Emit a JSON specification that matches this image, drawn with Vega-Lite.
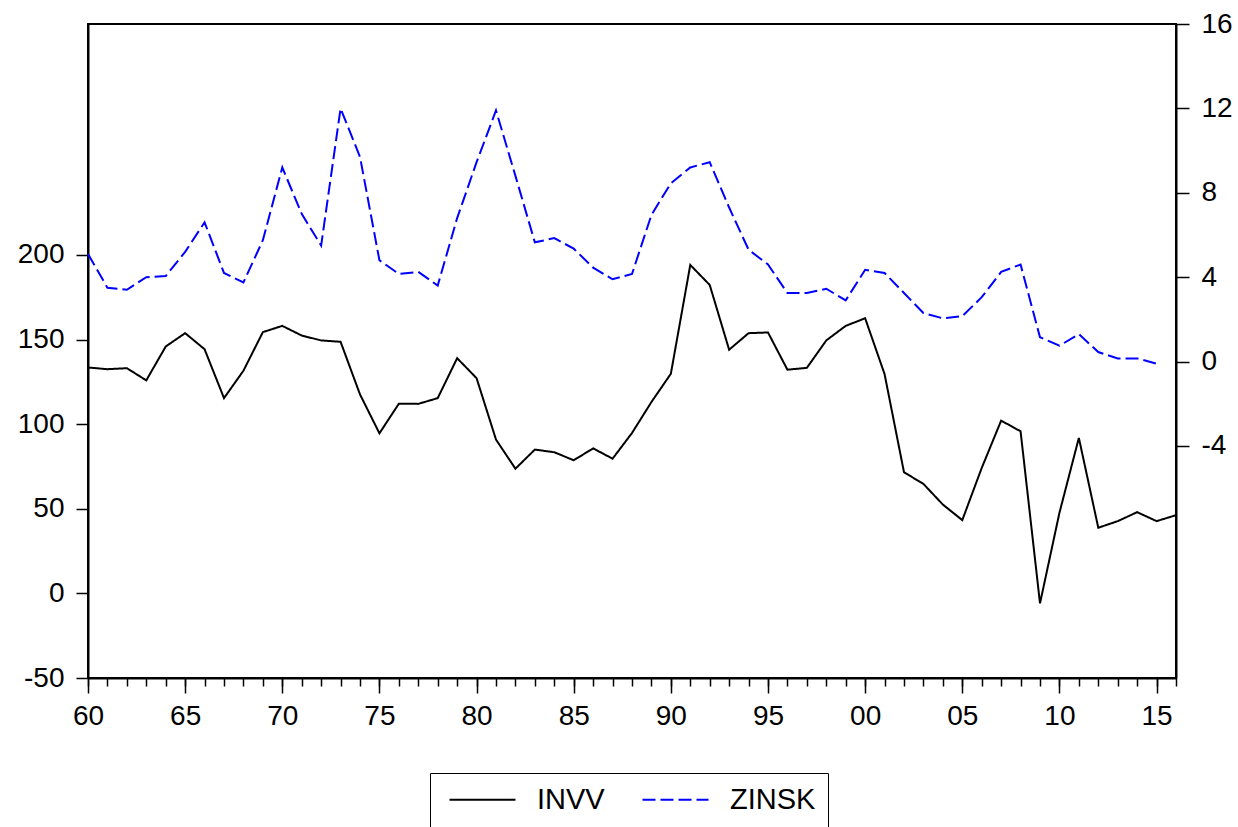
{
  "$schema": "https://vega.github.io/schema/vega-lite/v6.json",
  "width": 1088,
  "height": 654,
  "autosize": "none",
  "padding": {"left": 88, "top": 24, "right": 62, "bottom": 149},
  "background": "white",
  "config": {
    "view": {"stroke": "black", "strokeWidth": 2},
    "axis": {"labelFont": "Liberation Sans", "labelFontSize": 28, "labelColor": "black", "domainColor": "black", "domainWidth": 2, "tickColor": "black", "tickWidth": 1.5, "grid": false, "title": null},
    "legend": {"labelFont": "Liberation Sans", "labelFontSize": 29, "labelColor": "black", "strokeColor": "black", "padding": 12}
  },
  "datasets": {
    "invv": [
      {"year": 1960, "series": "INVV", "value": 133.5}, {"year": 1961, "series": "INVV", "value": 132.5}, {"year": 1962, "series": "INVV", "value": 133.1}, {"year": 1963, "series": "INVV", "value": 125.9}, {"year": 1964, "series": "INVV", "value": 145.9}, {"year": 1965, "series": "INVV", "value": 153.8}, {"year": 1966, "series": "INVV", "value": 144.3}, {"year": 1967, "series": "INVV", "value": 115.4}, {"year": 1968, "series": "INVV", "value": 131.6}, {"year": 1969, "series": "INVV", "value": 154.4},
      {"year": 1970, "series": "INVV", "value": 158.1}, {"year": 1971, "series": "INVV", "value": 152.4}, {"year": 1972, "series": "INVV", "value": 149.5}, {"year": 1973, "series": "INVV", "value": 148.7}, {"year": 1974, "series": "INVV", "value": 117.6}, {"year": 1975, "series": "INVV", "value": 94.6}, {"year": 1976, "series": "INVV", "value": 112.1}, {"year": 1977, "series": "INVV", "value": 112.0}, {"year": 1978, "series": "INVV", "value": 115.4}, {"year": 1979, "series": "INVV", "value": 139.0},
      {"year": 1980, "series": "INVV", "value": 127.2}, {"year": 1981, "series": "INVV", "value": 90.9}, {"year": 1982, "series": "INVV", "value": 73.7}, {"year": 1983, "series": "INVV", "value": 85.0}, {"year": 1984, "series": "INVV", "value": 83.4}, {"year": 1985, "series": "INVV", "value": 78.7}, {"year": 1986, "series": "INVV", "value": 85.7}, {"year": 1987, "series": "INVV", "value": 79.6}, {"year": 1988, "series": "INVV", "value": 94.8}, {"year": 1989, "series": "INVV", "value": 113.1},
      {"year": 1990, "series": "INVV", "value": 129.8}, {"year": 1991, "series": "INVV", "value": 194.1}, {"year": 1992, "series": "INVV", "value": 182.3}, {"year": 1993, "series": "INVV", "value": 144.0}, {"year": 1994, "series": "INVV", "value": 153.8}, {"year": 1995, "series": "INVV", "value": 154.2}, {"year": 1996, "series": "INVV", "value": 132.2}, {"year": 1997, "series": "INVV", "value": 133.3}, {"year": 1998, "series": "INVV", "value": 149.5}, {"year": 1999, "series": "INVV", "value": 158.1},
      {"year": 2000, "series": "INVV", "value": 162.6}, {"year": 2001, "series": "INVV", "value": 129.6}, {"year": 2002, "series": "INVV", "value": 71.6}, {"year": 2003, "series": "INVV", "value": 64.7}, {"year": 2004, "series": "INVV", "value": 52.5}, {"year": 2005, "series": "INVV", "value": 43.3}, {"year": 2006, "series": "INVV", "value": 74.1}, {"year": 2007, "series": "INVV", "value": 102.1}, {"year": 2008, "series": "INVV", "value": 95.8}, {"year": 2009, "series": "INVV", "value": -5.9},
      {"year": 2010, "series": "INVV", "value": 47.6}, {"year": 2011, "series": "INVV", "value": 91.9}, {"year": 2012, "series": "INVV", "value": 38.8}, {"year": 2013, "series": "INVV", "value": 42.7}, {"year": 2014, "series": "INVV", "value": 48.0}, {"year": 2015, "series": "INVV", "value": 42.7}, {"year": 2016, "series": "INVV", "value": 46.2}
    ],
    "zinsk": [
      {"year": 1960, "series": "ZINSK", "value": 5.1}, {"year": 1961, "series": "ZINSK", "value": 3.5}, {"year": 1962, "series": "ZINSK", "value": 3.4}, {"year": 1963, "series": "ZINSK", "value": 4.0}, {"year": 1964, "series": "ZINSK", "value": 4.05}, {"year": 1965, "series": "ZINSK", "value": 5.2}, {"year": 1966, "series": "ZINSK", "value": 6.6}, {"year": 1967, "series": "ZINSK", "value": 4.2}, {"year": 1968, "series": "ZINSK", "value": 3.75}, {"year": 1969, "series": "ZINSK", "value": 5.75},
      {"year": 1970, "series": "ZINSK", "value": 9.2}, {"year": 1971, "series": "ZINSK", "value": 7.0}, {"year": 1972, "series": "ZINSK", "value": 5.5}, {"year": 1973, "series": "ZINSK", "value": 12.0}, {"year": 1974, "series": "ZINSK", "value": 9.7}, {"year": 1975, "series": "ZINSK", "value": 4.8}, {"year": 1976, "series": "ZINSK", "value": 4.15}, {"year": 1977, "series": "ZINSK", "value": 4.25}, {"year": 1978, "series": "ZINSK", "value": 3.6}, {"year": 1979, "series": "ZINSK", "value": 6.8},
      {"year": 1980, "series": "ZINSK", "value": 9.45}, {"year": 1981, "series": "ZINSK", "value": 11.9}, {"year": 1982, "series": "ZINSK", "value": 8.8}, {"year": 1983, "series": "ZINSK", "value": 5.65}, {"year": 1984, "series": "ZINSK", "value": 5.85}, {"year": 1985, "series": "ZINSK", "value": 5.35}, {"year": 1986, "series": "ZINSK", "value": 4.45}, {"year": 1987, "series": "ZINSK", "value": 3.9}, {"year": 1988, "series": "ZINSK", "value": 4.15}, {"year": 1989, "series": "ZINSK", "value": 6.95},
      {"year": 1990, "series": "ZINSK", "value": 8.45}, {"year": 1991, "series": "ZINSK", "value": 9.2}, {"year": 1992, "series": "ZINSK", "value": 9.45}, {"year": 1993, "series": "ZINSK", "value": 7.3}, {"year": 1994, "series": "ZINSK", "value": 5.3}, {"year": 1995, "series": "ZINSK", "value": 4.6}, {"year": 1996, "series": "ZINSK", "value": 3.25}, {"year": 1997, "series": "ZINSK", "value": 3.25}, {"year": 1998, "series": "ZINSK", "value": 3.45}, {"year": 1999, "series": "ZINSK", "value": 2.9},
      {"year": 2000, "series": "ZINSK", "value": 4.35}, {"year": 2001, "series": "ZINSK", "value": 4.2}, {"year": 2002, "series": "ZINSK", "value": 3.25}, {"year": 2003, "series": "ZINSK", "value": 2.3}, {"year": 2004, "series": "ZINSK", "value": 2.05}, {"year": 2005, "series": "ZINSK", "value": 2.15}, {"year": 2006, "series": "ZINSK", "value": 3.05}, {"year": 2007, "series": "ZINSK", "value": 4.25}, {"year": 2008, "series": "ZINSK", "value": 4.6}, {"year": 2009, "series": "ZINSK", "value": 1.15},
      {"year": 2010, "series": "ZINSK", "value": 0.75}, {"year": 2011, "series": "ZINSK", "value": 1.3}, {"year": 2012, "series": "ZINSK", "value": 0.45}, {"year": 2013, "series": "ZINSK", "value": 0.15}, {"year": 2014, "series": "ZINSK", "value": 0.15}, {"year": 2015, "series": "ZINSK", "value": -0.1}
    ]
  },
  "layer": [
    {
      "data": {"name": "invv"},
      "mark": {"type": "line", "strokeWidth": 2},
      "encoding": {
        "x": {"field": "year", "type": "quantitative", "scale": {"domain": [1960, 2016], "nice": false, "zero": false},
          "axis": {"orient": "bottom", "values": [1960, 1965, 1970, 1975, 1980, 1985, 1990, 1995, 2000, 2005, 2010, 2015], "tickSize": 15, "labelPadding": 9, "labelFlush": false, "labelOverlap": false,
            "labelExpr": "(datum.value % 100 < 10 ? '0' : '') + (datum.value % 100)"}},
        "y": {"field": "value", "type": "quantitative", "scale": {"domain": [-50, 336.5], "nice": false, "zero": false},
          "axis": {"orient": "left", "values": [-50, 0, 50, 100, 150, 200], "tickSize": 12, "labelPadding": 12, "labelExpr": "datum.value + ''"}},
        "color": {"field": "series", "type": "nominal", "scale": {"domain": ["INVV", "ZINSK"], "range": ["black", "#0000ff"]},
          "legend": {"orient": "none", "legendX": 342, "legendY": 749, "direction": "horizontal", "title": null, "symbolType": "M-3,0H3", "symbolSize": 484, "symbolStrokeWidth": 2, "symbolOffset": 26, "labelOffset": 40, "columnPadding": 30}},
        "strokeDash": {"field": "series", "type": "nominal", "scale": {"domain": ["INVV", "ZINSK"], "range": [[1, 0], [13, 5]]},
          "legend": {"orient": "none", "legendX": 342, "legendY": 749, "direction": "horizontal", "title": null, "symbolType": "M-3,0H3", "symbolSize": 484, "symbolStrokeWidth": 2, "symbolOffset": 26, "labelOffset": 40, "columnPadding": 30}}
      }
    },
    {
      "data": {"name": "zinsk"},
      "mark": {"type": "line", "strokeWidth": 2},
      "encoding": {
        "x": {"field": "year", "type": "quantitative", "scale": {"domain": [1960, 2016], "nice": false, "zero": false},
          "axis": {"orient": "bottom", "values": [1960, 1961, 1962, 1963, 1964, 1965, 1966, 1967, 1968, 1969, 1970, 1971, 1972, 1973, 1974, 1975, 1976, 1977, 1978, 1979, 1980, 1981, 1982, 1983, 1984, 1985, 1986, 1987, 1988, 1989, 1990, 1991, 1992, 1993, 1994, 1995, 1996, 1997, 1998, 1999, 2000, 2001, 2002, 2003, 2004, 2005, 2006, 2007, 2008, 2009, 2010, 2011, 2012, 2013, 2014, 2015, 2016], "tickSize": 8, "labels": false, "domain": false}},
        "y": {"field": "value", "type": "quantitative", "scale": {"domain": [-15, 16], "nice": false, "zero": false},
          "axis": {"orient": "right", "values": [-4, 0, 4, 8, 12, 16], "tickSize": 13, "labelPadding": 12, "labelExpr": "datum.value + ''"}},
        "color": {"field": "series", "type": "nominal", "scale": {"domain": ["INVV", "ZINSK"], "range": ["black", "#0000ff"]},
          "legend": {"orient": "none", "legendX": 342, "legendY": 749, "direction": "horizontal", "title": null, "symbolType": "M-3,0H3", "symbolSize": 484, "symbolStrokeWidth": 2, "symbolOffset": 26, "labelOffset": 40, "columnPadding": 30}},
        "strokeDash": {"field": "series", "type": "nominal", "scale": {"domain": ["INVV", "ZINSK"], "range": [[1, 0], [13, 5]]},
          "legend": {"orient": "none", "legendX": 342, "legendY": 749, "direction": "horizontal", "title": null, "symbolType": "M-3,0H3", "symbolSize": 484, "symbolStrokeWidth": 2, "symbolOffset": 26, "labelOffset": 40, "columnPadding": 30}}
      }
    }
  ],
  "resolve": {"scale": {"y": "independent"}, "axis": {"x": "independent", "y": "independent"}}
}
